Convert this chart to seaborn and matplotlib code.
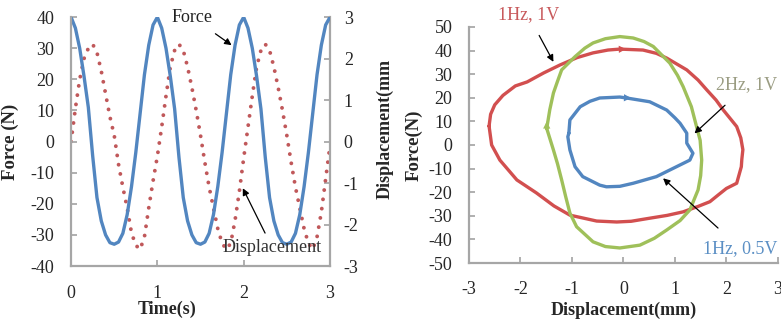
# Force / displacement response and hysteresis loops
import numpy as np
import matplotlib.pyplot as plt
import seaborn as sns

# ---- left panel: time series (every 0.05 s) ----
time_s = np.round(np.arange(61) * 0.05, 2)

force_n = [40, 36.5, 30, 21, 11, -4.5, -18, -25.5, -30, -32.5,
           -33, -32.3, -29.5, -23.5, -14.5, -3.5, 9, 21.5, 31, 37.5,
           40, 36.5, 30, 21, 10.5, -5, -18, -25.5, -30, -32.5,
           -33, -32.3, -29.5, -23.5, -14.5, -3.5, 9, 21.5, 31, 37.5,
           40, 36.5, 30, 21, 10.5, -5, -18, -25.5, -30, -32.5,
           -33, -32.3, -29.5, -23.5, -14.5, -3.5, 9, 21.5, 31, 37.5,
           40]

disp_mm = [0.0, 0.8, 1.5, 2.0, 2.25, 2.35, 2.15, 1.7, 1.15, 0.6,
           0.15, -0.55, -1.1, -1.6, -2.2, -2.5, -2.6, -2.3, -1.6, -0.95,
           -0.35, 0.35, 1.1, 1.8, 2.2, 2.35, 2.2, 1.8, 1.3, 0.75,
           0.15, -0.5, -1.1, -1.6, -2.1, -2.45, -2.6, -2.45, -1.9, -1.2,
           -0.4, 0.35, 1.1, 1.8, 2.2, 2.35, 2.2, 1.8, 1.3, 0.75,
           0.15, -0.5, -1.1, -1.6, -2.1, -2.45, -2.6, -2.3, -1.7, -0.9,
           -0.1]

# ---- right panel: hysteresis loops (displacement mm, force N) ----
loop_1hz_1v_x = [-2.61, -2.58, -2.5, -2.34, -2.1, -1.87, -1.55, -1.23, -0.9,
                 -0.59, -0.3, -0.07, 0.38, 0.64, 0.84, 1.23, 1.45, 1.62, 1.8,
                 1.94, 2.1, 2.2, 2.28, 2.32, 2.3, 2.29, 2.2, 2.0, 1.85, 1.68,
                 1.45, 1.16, 0.85, 0.51, 0.15, -0.13, -0.52, -1.04, -1.35,
                 -1.69, -2.07, -2.4, -2.56, -2.61]
loop_1hz_1v_y = [8, 13, 17, 21, 25, 26.7, 30.5, 33.9, 37, 39, 40.2, 40.6,
                 40.2, 38.8, 36.8, 31.8, 27.5, 23.3, 19, 14.8, 10.5, 7.8, 3,
                 -2, -6, -9.2, -16.2, -18.4, -21, -24, -26, -28.3, -29.8, -31,
                 -32.3, -32.6, -32.2, -29.7, -25.8, -20.3, -14.8, -6.4, 0, 8]

loop_2hz_1v_x = [-1.49, -1.43, -1.36, -1.28, -1.2, -0.94, -0.75, -0.59, -0.35,
                 -0.07, 0.19, 0.4, 0.58, 0.9, 1.05, 1.16, 1.32, 1.42, 1.49,
                 1.52, 1.5, 1.45, 1.29, 1.1, 0.84, 0.6, 0.32, -0.07, -0.35,
                 -0.59, -0.91, -1.04, -1.12, -1.2, -1.28, -1.36, -1.49]
loop_2hz_1v_y = [7, 15, 22, 27, 31.8, 37.4, 41, 43.2, 45, 45.9, 45.3, 43.8,
                 41.7, 34.7, 29.5, 24.7, 16.2, 7.8, 2, -6.4, -13, -19, -27.5,
                 -32, -36, -39.5, -42.4, -43.6, -43, -41, -34.6, -28.8, -22,
                 -14.8, -8, -2.1, 7]

loop_1hz_05v_x = [-1.06, -1.04, -0.84, -0.65, -0.46, -0.07, 0.06, 0.51, 0.84,
                  1.0, 1.1, 1.23, 1.23, 1.35, 1.29, 1.03, 0.64, 0.19, -0.07,
                  -0.33, -0.46, -0.79, -0.94, -1.04, -1.08, -1.06]
loop_1hz_05v_y = [5, 10.6, 16.2, 18.5, 19.9, 20.3, 19.9, 18.3, 14.8, 11.5,
                  9.2, 5, 0.8, -3.5, -6.4, -9.2, -13.4, -16.2, -17.5, -17.7,
                  -17, -13.4, -9.2, -2.1, 3.5, 5]

blue = '#5286c0'
red_dot = '#c0585a'
red = '#d24f4f'
green = '#9fc05a'
grey = '#a6a6a6'

sns.set_theme(style='white')
plt.rcParams['font.family'] = ['Liberation Serif', 'DejaVu Serif']
plt.rcParams['axes.unicode_minus'] = False
plt.rcParams['axes.edgecolor'] = grey
plt.rcParams['axes.linewidth'] = 1.6

fig = plt.figure(figsize=(7.81, 3.24), dpi=100)
ax1 = fig.add_axes([0.091, 0.179, 0.3315, 0.768])
ax2 = ax1.twinx()
ax3 = fig.add_axes([0.6005, 0.188, 0.3955, 0.729])

# left: force on ax1, displacement on twin (drawn underneath)
ax2.set_zorder(ax1.get_zorder() - 1)
ax1.patch.set_visible(False)
sns.lineplot(x=time_s, y=disp_mm, ax=ax2, color=red_dot, lw=2.8,
             linestyle=(0, (0.01, 2.4)), dash_capstyle='round')
sns.lineplot(x=time_s, y=force_n, ax=ax1, color=blue, lw=2.4)

ax1.set_xlim(0, 3)
ax1.set_ylim(-40, 40)
ax2.set_ylim(-3, 3)
ax1.set_xticks([0, 1, 2, 3])
ax1.set_yticks(range(-40, 41, 10))
ax2.set_yticks(range(-3, 4))
for a in (ax1, ax2):
    a.spines['top'].set_visible(False)
ax1.spines['right'].set_visible(False)
ax2.spines['left'].set_visible(False)
ax2.spines['bottom'].set_visible(False)
ax1.tick_params(axis='y', direction='in', length=4, color=grey, pad=12,
                labelsize=13, left=True)
ax1.tick_params(axis='x', direction='in', length=4, color=grey, pad=14,
                labelsize=13, bottom=True)
ax2.tick_params(axis='y', direction='in', length=4, color=grey, pad=10,
                labelsize=13, right=True)

ax1.set_xlabel('Time(s)', fontsize=13, fontweight='bold')
ax1.xaxis.set_label_coords(0.37, -0.14)
ax1.xaxis.label.set_va('top')
ax1.set_ylabel('Force (N)', fontsize=13.5, fontweight='bold')
ax1.yaxis.set_label_coords(-0.2, 0.5)
ax2.set_ylabel('Displacement(mm', fontsize=13, fontweight='bold')
ax2.yaxis.set_label_coords(1.18, 0.55)

ax1.annotate('Force', xy=(1.86, 31), xytext=(1.4, 40), fontsize=13,
             ha='center', va='center', color='#222222',
             arrowprops=dict(arrowstyle='-|>', color='black', lw=0.9,
                             shrinkA=6, shrinkB=0, mutation_scale=10))
ax1.annotate('Displacement', xy=(1.99, -15), xytext=(2.33, -34),
             fontsize=13, ha='center', va='center', color='#333333',
             arrowprops=dict(arrowstyle='-|>', color='black', lw=0.9,
                             shrinkA=2, shrinkB=0, mutation_scale=10),
             annotation_clip=False)

# right: hysteresis loops
sns.lineplot(x=loop_1hz_1v_x, y=loop_1hz_1v_y, ax=ax3, sort=False,
             estimator=None, color=red, lw=2.4)
sns.lineplot(x=loop_2hz_1v_x, y=loop_2hz_1v_y, ax=ax3, sort=False,
             estimator=None, color=green, lw=2.4)
sns.lineplot(x=loop_1hz_05v_x, y=loop_1hz_05v_y, ax=ax3, sort=False,
             estimator=None, color=blue, lw=2.4)

# direction arrows on the loops
for (x0, y0, x1, y1, c) in [(-0.3, 40.4, 0.05, 40.6, red),
                            (-0.15, 20.1, 0.15, 19.9, blue),
                            (-1.49, 3.0, -1.49, 10.0, green)]:
    ax3.annotate('', xy=(x1, y1), xytext=(x0, y0),
                 arrowprops=dict(arrowstyle='-|>', color=c, lw=0,
                                 mutation_scale=13, shrinkA=0, shrinkB=0))

ax3.set_xlim(-3, 3)
ax3.set_ylim(-50, 50)
ax3.set_xticks(range(-3, 4))
ax3.set_yticks(range(-50, 51, 10))
ax3.spines['top'].set_visible(False)
ax3.spines['right'].set_visible(False)
ax3.tick_params(axis='y', direction='in', length=4, color=grey, pad=12,
                labelsize=13, left=True)
ax3.tick_params(axis='x', direction='in', length=4, color=grey, pad=13,
                labelsize=13, bottom=True)
ax3.set_xlabel('Displacement(mm)', fontsize=13, fontweight='bold')
ax3.xaxis.set_label_coords(0.5, -0.165)
ax3.xaxis.label.set_va('top')
ax3.set_ylabel('Force(N)', fontsize=13.5, fontweight='bold')
ax3.yaxis.set_label_coords(-0.15, 0.5)

ax3.annotate('1Hz, 1V', xy=(-1.36, 35.2), xytext=(-1.85, 55), fontsize=13,
             ha='center', va='center', color='#c85a5c',
             arrowprops=dict(arrowstyle='-|>', color='black', lw=0.9,
                             shrinkA=7, shrinkB=0, mutation_scale=10),
             annotation_clip=False)
ax3.annotate('2Hz, 1V', xy=(1.38, 4.9), xytext=(2.4, 25.4), fontsize=13,
             ha='center', va='center', color='#9a9c82',
             arrowprops=dict(arrowstyle='-|>', color='black', lw=0.9,
                             shrinkA=9, shrinkB=0, mutation_scale=10),
             annotation_clip=False)
ax3.annotate('1Hz, 0.5V', xy=(0.77, -14.1), xytext=(2.27, -43.7),
             fontsize=13, ha='center', va='center', color='#5b8fc4',
             arrowprops=dict(arrowstyle='-|>', color='black', lw=0.9,
                             shrinkA=9, shrinkB=0, mutation_scale=10),
             annotation_clip=False)

fig.savefig('out.png', dpi=100)
